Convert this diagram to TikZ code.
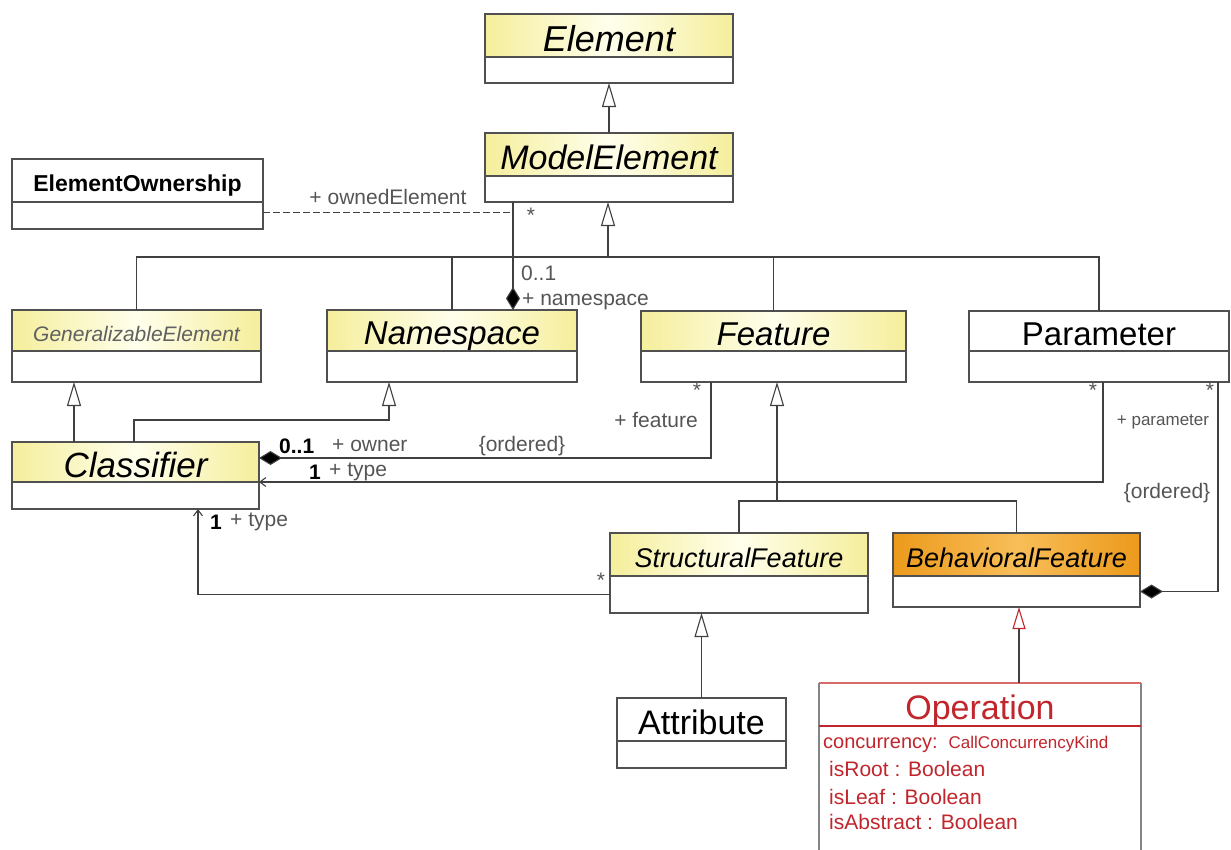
\documentclass[tikz,border=0pt]{standalone}
\usepackage{fontspec}
\setmainfont{Liberation Sans}
\usetikzlibrary{arrows.meta}

\definecolor{ylw}{HTML}{F5EE9C}
\definecolor{ylwmid}{HTML}{FFFFEC}
\definecolor{org}{HTML}{EC9A1C}
\definecolor{orgmid}{HTML}{F8BE58}
\definecolor{boxline}{HTML}{505050}
\definecolor{wirec}{HTML}{404040}
\definecolor{lblc}{HTML}{555555}
\definecolor{gec}{HTML}{606060}
\definecolor{opred}{HTML}{C0262C}
\definecolor{opline}{HTML}{D86A6A}

\newcommand\fsz[1]{\fontsize{#1}{#1}\selectfont}
% lower a header text a little without changing its box
\newcommand\lowered[1]{\raisebox{-3pt}[\height][0pt]{#1}}

\tikzset{
  box/.style={draw=boxline, line width=1.3pt, inner sep=0pt, outer sep=0pt, anchor=north west},
  yhdr/.style={box, left color=ylw, right color=ylw, middle color=ylwmid},
  ohdr/.style={box, left color=org, right color=org, middle color=orgmid},
  whdr/.style={box, fill=white},
  classbody/.style={box, fill=white},
  wire/.style={draw=wirec, line width=1.1pt},
  gen/.style={wire, -{Triangle[open, length=24pt, width=14pt, fill=white]}},
  comp/.style={wire, {Diamond[length=23pt, width=14pt, fill=black]}-},
  nav/.style={wire, -{Straight Barb[length=6pt, width=9pt]}},
  lbl/.style={text=lblc, font=\fsz{21}, inner sep=0pt},
  opattr/.style={text=opred, inner sep=0pt, anchor=west},
}

% class box: name, x1, y1, x2, y-divider, y2, header style, header text
\newcommand\umlclass[8]{%
  \pgfmathsetmacro\bw{#4-#2}%
  \pgfmathsetmacro\hh{#5-#3}%
  \pgfmathsetmacro\bh{#6-#5}%
  \node[#7, minimum width=\bw pt, minimum height=\hh pt] (#1) at (#2,#3) {\lowered{#8}};
  \node[classbody, minimum width=\bw pt, minimum height=\bh pt] (#1-b) at (#1.south west) {};
}

\begin{document}
\begin{tikzpicture}[x=1pt, y=-1pt]
\useasboundingbox[fill=white] (0,0) rectangle (1231,849);

% classes
\umlclass{element}{485}{14}{733}{57}{83}{yhdr}{\fsz{36}\itshape Element}
\umlclass{modelel}{485}{133}{733}{176}{202}{yhdr}{\fsz{34}\itshape ModelElement}
\umlclass{eown}{12}{159}{263}{202}{229}{whdr}{\fsz{23}\bfseries ElementOwnership}
\umlclass{genel}{12}{310}{261}{351}{382}{yhdr}{\color{gec}\fsz{21}\itshape GeneralizableElement}
\umlclass{namesp}{327}{310}{577}{351}{382}{yhdr}{\fsz{33}\itshape Namespace}
\umlclass{feature}{641}{311}{906}{351}{382}{yhdr}{\fsz{33}\itshape Feature}
\umlclass{param}{969}{311}{1229}{351}{382}{whdr}{\fsz{33}Parameter}
\umlclass{classif}{12}{442}{259}{482}{509}{yhdr}{\fsz{35}\itshape Classifier}
\umlclass{structf}{610}{533}{868}{576}{613}{yhdr}{\fsz{27}\itshape StructuralFeature}
\umlclass{behavf}{893}{533}{1140}{576}{607}{ohdr}{\fsz{27}\itshape BehavioralFeature}
\umlclass{attrib}{617}{698}{786}{741}{768}{whdr}{\fsz{34}Attribute}

% Operation (runs past the lower edge)
\node[inner sep=0pt, outer sep=0pt, anchor=north west, fill=white,
      minimum width=322pt, minimum height=43pt, text=opred] (oper) at (819,683) {\lowered{\fsz{34}Operation}};
\coordinate (opbottom) at (0,860);
\draw[draw=boxline!70, line width=1.3pt] (oper.south west |- opbottom) -- (oper.north west);
\draw[draw=boxline!70, line width=1.3pt] (oper.south east |- opbottom) -- (oper.north east);
\draw[draw=opline, line width=1.3pt] (oper.north west) -- (oper.north east);
\draw[draw=opred, line width=1.3pt] (oper.south west) -- (oper.south east);
\node[opattr] (opconc) at (823,744) {\fsz{20}concurrency:\hspace{11pt}{\fsz{17}CallConcurrencyKind}};
\node[opattr, font=\fsz{21}] (oproot) at (829,769) {isRoot : Boolean};
\node[opattr, font=\fsz{21}] (opleaf) at (829,797) {isLeaf : Boolean};
\node[opattr, font=\fsz{21}] (opabs) at (829,822) {isAbstract : Boolean};

% generalizations
\draw[gen] (modelel.north) -- (element-b.south);

\coordinate (mejoin) at (608,257);
\draw[gen] (mejoin) -- (mejoin |- modelel-b.south);
\draw[wire] (genel.north) |- (mejoin);
\draw[wire] (mejoin) -| (param.north);
\draw[wire] (namesp.north) -- (namesp.north |- mejoin);
\draw[wire] (feature.north) -- (feature.north |- mejoin);

\coordinate (clsge) at (74,442);
\draw[gen] (clsge) -- (clsge |- genel-b.south);
\coordinate (clsns) at (134,442);
\coordinate (nsbend) at (389,420);
\coordinate (nsgen) at (389,382);
\draw[gen] (clsns) |- (nsbend) -- (nsgen);

\coordinate (featjoin) at (777,501);
\draw[gen] (featjoin) -- (featjoin |- feature-b.south);
\draw[wire] (structf.north) |- (featjoin) -| (behavf.north);

\draw[gen] (attrib.north) -- (attrib.north |- structf-b.south);

\coordinate (opgen) at (1019,683);
\draw[wire, -{Triangle[open, length=22pt, width=13pt, fill=white, color=opred]}]
  (opgen) -- (opgen |- behavf-b.south);

% associations
\coordinate (meown) at (513,202);
\coordinate (nsown) at (513,310);
\draw[comp] (nsown) -- (meown);
\coordinate (ownjoin) at (513,212);
\draw[wire, line width=0.9pt, dash pattern=on 7pt off 3pt] (eown-b.east |- ownjoin) -- (ownjoin);

\coordinate (clsown) at (259,458);
\coordinate (featown) at (711,382);
\draw[comp] (clsown) -| (featown);

\coordinate (clstype) at (259,482);
\coordinate (partype) at (1103,382);
\draw[nav] (partype) |- (clstype);

\coordinate (parown) at (1218,382);
\draw[comp] (behavf-b.east) -| (parown);

\coordinate (clsbot) at (198,509);
\draw[nav] (structf-b.west) -| (clsbot);

% association end labels
\node[lbl] (lowned) at (388,197) {+ ownedElement};
\node[lbl] (lstar1) at (531,215) {*};
\node[lbl, anchor=west] (lns01) at (521,273) {0..1};
\node[lbl, anchor=west] (lns) at (522,302) {+ namespace};
\node[lbl, anchor=west, text=black] (lown01) at (279,446) {\bfseries 0..1};
\node[lbl, anchor=west] (lowner) at (332,446) {+ owner};
\node[lbl] (lord1) at (522,446) {\{ordered\}};
\node[lbl, anchor=west, text=black] (ltype1a) at (309,472) {\bfseries 1};
\node[lbl, anchor=west] (ltype1) at (329,472) {+ type};
\node[lbl] (lstar2) at (697,390) {*};
\node[lbl] (lfeat) at (656,420) {+ feature};
\node[lbl] (lstar3) at (1093,390) {*};
\node[lbl] (lstar4) at (1210,390) {*};
\node[lbl, font=\fsz{17}] (lpar) at (1163,422) {+ parameter};
\node[lbl] (lord2) at (1167,493) {\{ordered\}};
\node[lbl, anchor=west, text=black] (ltype2a) at (210,522) {\bfseries 1};
\node[lbl, anchor=west] (ltype2) at (230,522) {+ type};
\node[lbl] (lstar5) at (601,580) {*};
\end{tikzpicture}
\end{document}
